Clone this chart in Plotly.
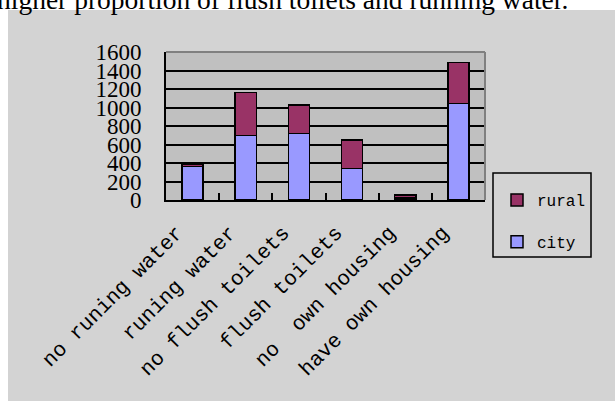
import plotly.graph_objects as go

categories = ["no runing water", "runing water", "no flush toilets", "flush toilets",
              "no\u00a0\u00a0own housing", "have own housing"]
city = [360, 700, 717, 339, 20, 1045]
rural = [26, 464, 310, 310, 35, 444]
y_ticks = [0, 200, 400, 600, 800, 1000, 1200, 1400, 1600]
caption = "higher proportion of flush toilets and running water."

W, H = 615, 401
L, R, T, B = 166, 130, 52, 201
pw, ph = W - L - R, H - T - B

def px(x):
    return (x - L) / pw

def py(y):
    return (H - B - y) / ph

fig = go.Figure()
fig.add_trace(go.Bar(x=categories, y=city, name="city", legendgroup="c", legendrank=2,
                     marker=dict(color="#9999FF", line=dict(color="black", width=1.5))))
fig.add_trace(go.Bar(x=categories, y=rural, name="rural", legendgroup="r", legendrank=1,
                     marker=dict(color="#993366", line=dict(color="black", width=1.5))))

fig.update_layout(
    width=W, height=H,
    margin=dict(l=L, r=R, t=T, b=B, pad=0),
    barmode="stack", bargap=0.6,
    paper_bgcolor="#D3D3D3", plot_bgcolor="#C0C0C0",
    showlegend=True,
    legend=dict(x=px(497), y=py(183), xanchor="left", yanchor="top",
                bgcolor="rgba(0,0,0,0)", borderwidth=0,
                traceorder="grouped", tracegroupgap=18, itemwidth=30,
                font=dict(family="Liberation Mono", size=16, color="black")),
    xaxis=dict(type="category", showline=True, linecolor="black", linewidth=2,
               ticks="inside", ticklen=7, tickwidth=1.5, tickcolor="black",
               tickson="boundaries", tickangle=-45, showgrid=False,
               ticklabelstandoff=10, ticklabelshift=-16,
               tickfont=dict(family="Liberation Mono", size=21, color="black")),
    yaxis=dict(range=[0, 1600], tickvals=y_ticks, showline=True, linecolor="black",
               linewidth=2, gridcolor="black", gridwidth=1.5, ticks="",
               ticklabelstandoff=18, zeroline=False,
               tickfont=dict(family="Liberation Serif", size=23, color="black")),
    shapes=[
        dict(type="rect", xref="paper", yref="paper", x0=px(-5), x1=px(W + 5),
             y0=py(10), y1=py(-5), fillcolor="white", line=dict(width=0), layer="above"),
        dict(type="rect", xref="paper", yref="paper", x0=px(-5), x1=px(8),
             y0=py(H + 5), y1=py(-5), fillcolor="white", line=dict(width=0), layer="above"),
        dict(type="line", xref="paper", yref="paper", x0=0, x1=1, y0=1, y1=1,
             line=dict(color="#808080", width=2), layer="above"),
        dict(type="line", xref="paper", yref="paper", x0=1, x1=1, y0=0, y1=1,
             line=dict(color="#808080", width=2), layer="above"),
        dict(type="rect", xref="paper", yref="paper", x0=px(493), x1=px(591),
             y0=py(257), y1=py(173), line=dict(color="black", width=1.5),
             fillcolor="rgba(0,0,0,0)", layer="above"),
    ],
    annotations=[dict(text=caption, xref="paper", yref="paper", x=px(-5), y=py(17),
                      xanchor="left", yanchor="bottom", showarrow=False,
                      font=dict(family="Liberation Serif", size=27.5, color="black"))],
)

fig.write_html("out.html")
